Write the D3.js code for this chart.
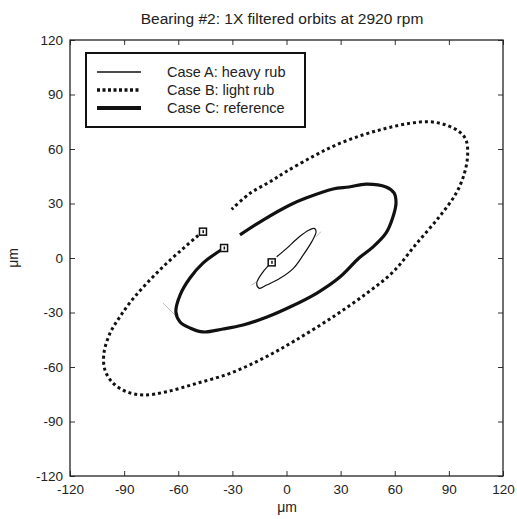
<!DOCTYPE html>
<html lang="en">
<head>
<meta charset="utf-8">
<title>Bearing #2 orbits</title>
<script src="https://d3js.org/d3.v7.min.js"></script>
<style>
  body { margin: 0; background: white; }
  svg text { font-family: "Liberation Sans", Arial, sans-serif; fill: #222; }
</style>
</head>
<body>
<svg id="chart" width="517" height="519"></svg>
<script>
// ticks
const ticks = [-120, -90, -60, -30, 0, 30, 60, 90, 120];

// Case A: heavy rub (thin), [x, y] in um, from start marker
const caseA = [
  [-8.2, -2.4], [-12.9, -7.5], [-16.5, -13.9], [-15.1, -16.7], [-11.0, -14.9],
  [-3.6, -11.2], [3.8, -5.7], [9.3, 1.7], [14.0, 9.0], [16.4, 14.5],
  [15.4, 16.3], [12.6, 15.4], [7.1, 11.7], [0.1, 5.3], [-5.4, 0.7]
];

// Case B: light rub (dotted)
const caseB = [
  [-46.3, 14.5], [-49.8, 11.7], [-57.2, 5.3], [-66.4, -2.9], [-75.7, -12.1],
  [-84.9, -22.2], [-92.3, -32.3], [-97.8, -41.4], [-101.2, -52.5], [-100.6, -61.7],
  [-96.0, -69.0], [-88.6, -73.6], [-79.4, -75.4], [-66.4, -73.6], [-49.8, -69.0],
  [-31.3, -63.5], [-12.9, -55.2], [4.5, -45.6], [25.9, -32.3],
  [44.5, -19.4], [59.2, -7.5], [72.2, 8.1], [84.7, 22.7], [94.0, 35.6],
  [98.6, 46.6], [100.4, 56.7], [99.5, 65.0], [95.8, 69.5], [88.4, 73.2],
  [79.2, 75.0], [68.1, 74.1], [55.2, 71.4], [42.2, 67.7], [27.4, 62.2],
  [14.5, 55.8], [-0.3, 47.5], [-9.1, 42.0], [-20.2, 35.6], [-30.4, 26.8]
];

// Case C: reference (thick)
const caseC = [
  [-34.6, 5.5], [-46.3, -2.8], [-53.5, -11.0], [-59.0, -20.4], [-61.3, -29.7],
  [-59.0, -35.2], [-53.5, -38.5], [-46.3, -40.7], [-35.2, -39.1], [-24.1, -36.9],
  [-10.8, -32.5], [1.9, -27.0], [16.9, -19.3], [29.6, -10.5], [40.2, 0],
  [48.0, 6.1], [55.2, 13.8], [59.0, 22.6], [60.7, 30.3], [59.6, 35.8],
  [55.2, 39.1], [44.1, 40.7], [34.6, 39.1], [25.8, 38.0], [10.8, 33.0],
  [1.9, 29.2], [-13.0, 20.9], [-25.8, 12.7]
];

// faint grey strokes
const greySegs = [
  [[16.4, 11.7], [19.1, 14.5]],
  [[-19.3, -14.9], [-16.5, -13.0]],
  [[-68.5, -24.8], [-61.8, -31.4]]
];

const legendLabels = ["Case A: heavy rub", "Case B: light rub", "Case C: reference"];

const svg = d3.select("#chart");
const m = { left: 70, right: 503, top: 40, bottom: 476 };

const x = d3.scaleLinear().domain([-120, 120]).range([m.left, m.right]);
const y = d3.scaleLinear().domain([-120, 120]).range([m.bottom, m.top]);

const line = d3.line().x(d => x(d[0])).y(d => y(d[1])).curve(d3.curveCatmullRom);
const fmt = d => String(d);   // plain hyphen like the original

// axes (ticks inward)
svg.append("g").attr("transform", `translate(0,${m.bottom})`)
  .call(d3.axisBottom(x).tickValues(ticks).tickFormat(fmt).tickSize(-5).tickPadding(8));
svg.append("g").attr("transform", `translate(${m.left},0)`)
  .call(d3.axisLeft(y).tickValues(ticks).tickFormat(fmt).tickSize(-5).tickPadding(7));
svg.append("g").attr("transform", `translate(0,${m.top})`)
  .call(d3.axisTop(x).tickValues(ticks).tickSize(-5).tickFormat(""));
svg.append("g").attr("transform", `translate(${m.right},0)`)
  .call(d3.axisRight(y).tickValues(ticks).tickSize(-5).tickFormat(""));
svg.selectAll(".domain").remove();
svg.selectAll(".tick line").attr("stroke", "#333");
svg.selectAll(".tick text").style("font-size", "13.5px").attr("fill", "#222");

svg.append("rect")
  .attr("x", m.left).attr("y", m.top)
  .attr("width", m.right - m.left).attr("height", m.bottom - m.top)
  .attr("fill", "none").attr("stroke", "#222").attr("stroke-width", 1.3);

// grey
svg.selectAll("path.grey").data(greySegs).join("path")
  .attr("class", "grey")
  .attr("d", d3.line().x(d => x(d[0])).y(d => y(d[1])))
  .attr("fill", "none").attr("stroke", "#bbb").attr("stroke-width", 1);

// curves
svg.append("path").attr("d", line(caseB))
  .attr("fill", "none").attr("stroke", "#111")
  .attr("stroke-width", 3).attr("stroke-dasharray", "3,3");
svg.append("path").attr("d", line(caseC))
  .attr("fill", "none").attr("stroke", "#111").attr("stroke-width", 3.2);
svg.append("path").attr("d", line(caseA))
  .attr("fill", "none").attr("stroke", "#111").attr("stroke-width", 1.2);

// start markers
const starts = [caseA[0], caseB[0], caseC[0]];
svg.selectAll("rect.mark").data(starts).join("rect")
  .attr("class", "mark")
  .attr("x", d => x(d[0]) - 3.5).attr("y", d => y(d[1]) - 3.5)
  .attr("width", 7).attr("height", 7)
  .attr("fill", "white").attr("stroke", "#111").attr("stroke-width", 1.5);
svg.selectAll("rect.dot").data(starts).join("rect")
  .attr("class", "dot")
  .attr("x", d => x(d[0]) - 0.5).attr("y", d => y(d[1]) - 1.5)
  .attr("width", 1.5).attr("height", 3)
  .attr("fill", "#111");

// legend
const lg = svg.append("g");
lg.append("rect").attr("x", 86).attr("y", 53).attr("width", 219).attr("height", 74)
  .attr("fill", "white").attr("stroke", "#111").attr("stroke-width", 2);
const styles = [
  { w: 1.5, dash: null },
  { w: 3.5, dash: "3,2.5" },
  { w: 3.8, dash: null }
];
legendLabels.forEach((t, i) => {
  const yy = 72 + i * 18;
  lg.append("line").attr("x1", 97).attr("x2", 141).attr("y1", yy).attr("y2", yy)
    .attr("stroke", "#111").attr("stroke-width", styles[i].w)
    .attr("stroke-dasharray", styles[i].dash);
  lg.append("text").attr("x", 167).attr("y", yy + 5)
    .style("font-size", "14.5px").text(t);
});

// titles
svg.append("text").attr("x", 282).attr("y", 24).attr("text-anchor", "middle")
  .style("font-size", "15.5px").text("Bearing #2: 1X filtered orbits at 2920 rpm");
svg.append("text").attr("x", 287).attr("y", 512).attr("text-anchor", "middle")
  .style("font-size", "14px").text("μm");
svg.append("text").attr("transform", "translate(18,258) rotate(-90)")
  .attr("text-anchor", "middle").style("font-size", "14px").text("μm");
</script>
</body>
</html>
